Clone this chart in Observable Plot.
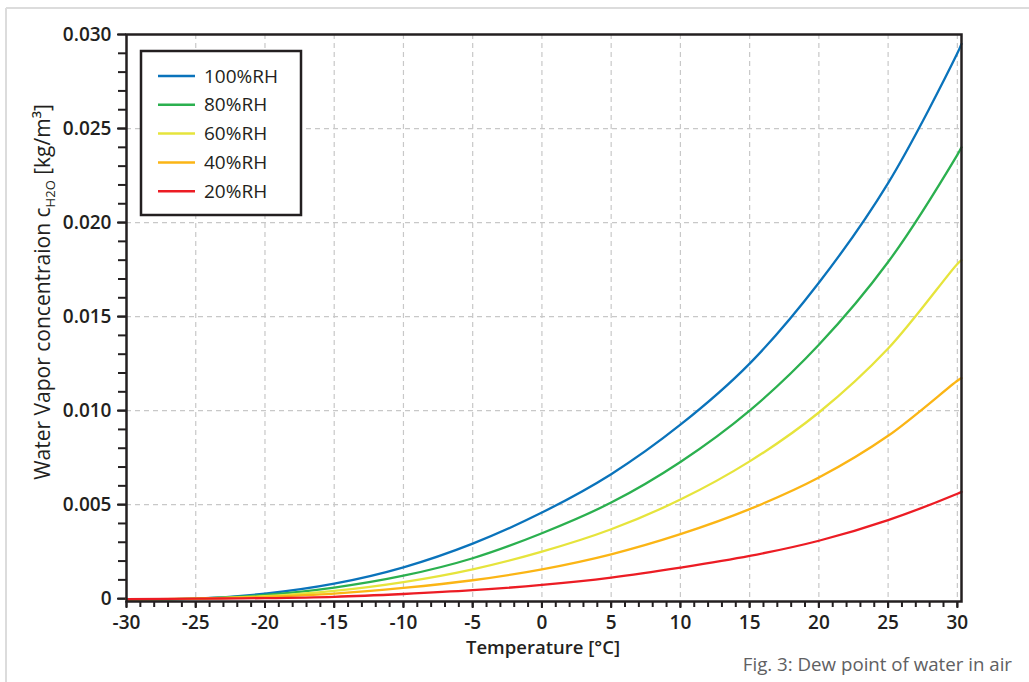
<!DOCTYPE html>
<html>
<head>
<meta charset="utf-8">
<script src="https://cdn.jsdelivr.net/npm/d3@7"></script>
<script src="https://cdn.jsdelivr.net/npm/@observablehq/plot@0.6"></script>
<style>
  html, body { margin: 0; padding: 0; background: #fff; overflow: hidden; }
  #chart { position: relative; width: 1029px; height: 682px; }
</style>
</head>
<body>
<div id="chart"></div>
<script>
// ---- data ----
const temps = [-30, -25, -20, -15, -10, -5, 0, 5, 10, 15, 20, 25, 30, 30.3];
const rh100 = [-0.00003, 0, 0.00027, 0.0008, 0.00167, 0.00293, 0.00458, 0.00662, 0.00925, 0.0125, 0.0168, 0.0221, 0.0290, 0.0295];
const rh80  = [-0.00003, 0, 0.0002, 0.00059, 0.00122, 0.00215, 0.00348, 0.00511, 0.00727, 0.0100, 0.0135, 0.0179, 0.0236, 0.0240];
const rh60  = [-0.00003, 0, 0.00013, 0.00041, 0.00088, 0.00156, 0.0025, 0.00369, 0.00527, 0.0073, 0.0099, 0.0133, 0.0178, 0.0180];
const rh40  = [-0.00003, 0, 0.0001, 0.00027, 0.00057, 0.00098, 0.00156, 0.00236, 0.00343, 0.00476, 0.00644, 0.00866, 0.01159, 0.01173];
const rh20  = [-0.00003, 0, 0.00003, 0.0001, 0.00025, 0.00045, 0.00073, 0.00112, 0.00165, 0.00227, 0.00308, 0.00418, 0.00558, 0.00568];
const seriesNames = ["100%RH", "80%RH", "60%RH", "40%RH", "20%RH"];
const seriesColors = ["#0a73bb", "#2bb04f", "#e6e43c", "#fbb515", "#ec1c24"];
const xMajorTicks = [-30, -25, -20, -15, -10, -5, 0, 5, 10, 15, 20, 25, 30];
const xMinorTicks = d3.range(-30, 31, 1);
const yMajorTicks = [0, 0.005, 0.010, 0.015, 0.020, 0.025, 0.030];
const yMinorTicks = d3.range(0, 31, 1).map(d => d / 1000);
const xTitle = "Temperature [°C]";
const captionText = "Fig. 3: Dew point of water in air";

const seriesValues = [rh100, rh80, rh60, rh40, rh20];
const rows = [];
seriesNames.forEach((name, i) => {
  temps.forEach((t, j) => rows.push({series: name, t, c: seriesValues[i][j]}));
});

const FONT = "'Open Sans', 'DejaVu Sans', sans-serif";
const INK = "#231f20";

const plot = Plot.plot({
  width: 1029,
  height: 682,
  marginLeft: 126,
  marginRight: 68,
  marginTop: 34,
  marginBottom: 81,
  style: {fontFamily: FONT, fontSize: "19px", color: INK, background: "transparent", overflow: "visible"},
  x: {domain: [-30, 30.3]},
  y: {domain: [-0.00015, 0.030]},
  color: {domain: seriesNames, range: seriesColors},
  marks: [
    Plot.gridX(xMajorTicks.slice(1), {stroke: "#c8c8c8", strokeOpacity: 1, strokeWidth: 1.2, strokeDasharray: "5,4"}),
    Plot.gridY(yMajorTicks.slice(1), {stroke: "#c8c8c8", strokeOpacity: 1, strokeWidth: 1.2, strokeDasharray: "5,4"}),
    Plot.axisX(xMinorTicks, {tickSize: 6, tickFormat: null, text: null, stroke: INK, strokeWidth: 2, label: null}),
    Plot.axisX(xMajorTicks, {tickSize: 7, tickPadding: 7, tickFormat: d => String(d), stroke: INK, strokeWidth: 2, fontWeight: 600, label: null}),
    Plot.axisY(yMinorTicks, {tickSize: 8, tickFormat: null, text: null, stroke: INK, strokeWidth: 2, label: null}),
    Plot.axisY(yMajorTicks, {tickSize: 9, tickPadding: 6, tickFormat: d => d === 0 ? "0" : d3.format(".3f")(d), stroke: INK, strokeWidth: 2, fontWeight: 600, label: null}),
    Plot.line(rows, {x: "t", y: "c", z: "series", stroke: "series", strokeWidth: 2.3, curve: "catmull-rom"}),
    Plot.frame({stroke: INK, strokeWidth: 2.5})
  ]
});

document.getElementById("chart").appendChild(plot);

const svg = d3.select(plot);

// outer light frame of the figure
svg.insert("g", ":first-child")
  .call(g => g.append("line").attr("x1", 6).attr("x2", 1029).attr("y1", 8).attr("y2", 8).attr("stroke", "#dcdcdc").attr("stroke-width", 2))
  .call(g => g.append("line").attr("x1", 6).attr("x2", 6).attr("y1", 8).attr("y2", 682).attr("stroke", "#dcdcdc").attr("stroke-width", 2));

// x axis title
svg.append("text")
  .attr("x", 543).attr("y", 654)
  .attr("text-anchor", "middle")
  .attr("font-family", FONT).attr("font-size", 18.5).attr("font-weight", 600).attr("fill", INK)
  .text(xTitle);

// y axis title with subscript
const yt = svg.append("text")
  .attr("transform", "translate(50,292) rotate(-90)")
  .attr("text-anchor", "middle")
  .attr("font-family", FONT).attr("font-size", 21).attr("fill", INK);
yt.append("tspan").text("Water Vapor concentraion c");
yt.append("tspan").attr("font-size", 13).attr("dy", 5).text("H2O");
yt.append("tspan").attr("dy", -5).text(" [kg/m³]");

// caption
svg.append("text")
  .attr("x", 1012).attr("y", 671)
  .attr("text-anchor", "end")
  .attr("font-family", FONT).attr("font-size", 18.7).attr("fill", "#606062")
  .text(captionText);

// legend
const lg = svg.append("g");
lg.append("rect").attr("x", 141).attr("y", 51).attr("width", 160).attr("height", 164)
  .attr("fill", "#fff").attr("stroke", INK).attr("stroke-width", 2.5);
seriesNames.forEach((name, i) => {
  const y = 76 + i * 28.8;
  lg.append("line").attr("x1", 158).attr("x2", 195).attr("y1", y).attr("y2", y)
    .attr("stroke", seriesColors[i]).attr("stroke-width", 2.5);
  lg.append("text").attr("x", 204).attr("y", y).attr("dy", "0.35em")
    .attr("text-anchor", "start")
    .attr("font-family", FONT).attr("font-size", 19).attr("fill", INK).text(name);
});
</script>
</body>
</html>
